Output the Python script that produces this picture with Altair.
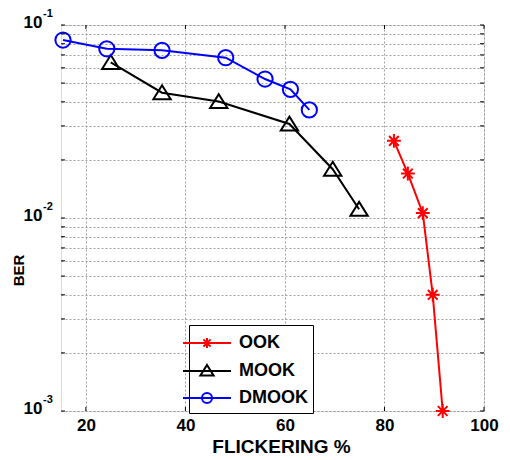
import altair as alt
import pandas as pd

# ---- data ----
series_names = ["OOK", "MOOK", "DMOOK"]
series_colors = ["#ff0000", "#000000", "#0000ff"]

ook_x = [81.9, 84.7, 87.7, 89.7, 91.7]
ook_ber = [0.0251, 0.0170, 0.0106, 0.0040, 0.0010]

mook_x = [25.0, 35.3, 46.7, 60.9, 69.6, 74.9]
mook_ber = [0.0640, 0.0446, 0.0401, 0.0307, 0.0179, 0.0111]

dmook_x = [15.4, 24.2, 35.3, 48.1, 56.0, 61.1, 64.9]
dmook_ber = [0.0836, 0.0753, 0.0739, 0.0677, 0.0525, 0.0464, 0.0363]

x_ticks = [20, 40, 60, 80, 100]
y_exponents = [-3, -2, -1]
y_mantissas = [1, 2, 3, 4, 5, 6, 7, 8, 9]

# ---- tables ----
rows = []
for name, xs, ys in zip(series_names, [ook_x, mook_x, dmook_x], [ook_ber, mook_ber, dmook_ber]):
    for i, (a, b) in enumerate(zip(xs, ys)):
        rows.append({"series": name, "x": a, "ber": b, "order": i})
df = pd.DataFrame(rows)

y_grid = [round(m * 10.0 ** e, 6) for e in y_exponents[:-1] for m in y_mantissas] + [10.0 ** y_exponents[-1]]
ytick_df = pd.DataFrame({"ber": y_grid})
xtick_df = pd.DataFrame({"x": x_ticks})
exp_df = pd.DataFrame({"ber": [10.0 ** e for e in y_exponents], "label": [str(e) for e in y_exponents]})

W, H = 423, 386
FONT = "Liberation Sans"

# marker paths (unit square)
marker_paths = [
    "M0,-0.8V0.8M-0.8,0H0.8M-0.56,-0.56L0.56,0.56M-0.56,0.56L0.56,-0.56",
    "M0,-0.85L1,0.75L-1,0.75Z",
    "M0.88,0A0.88,0.88 0 1,1 -0.88,0A0.88,0.88 0 1,1 0.88,0",
]
# legend symbols: line segment plus small marker
legend_paths = [
    "M-2,0H2M0,-0.42V0.42M-0.42,0H0.42M-0.3,-0.3L0.3,0.3M-0.3,0.3L0.3,-0.3",
    "M-2,0H2M0,-0.5L0.55,0.38L-0.55,0.38Z",
    "M-2,0H2M0.42,0A0.42,0.42 0 1,1 -0.42,0A0.42,0.42 0 1,1 0.42,0",
]

xscale = alt.Scale(domain=[15, 100], nice=False, zero=False)
yscale = alt.Scale(type="log", domain=[0.001, 0.1], nice=False)

x_axis = alt.Axis(
    values=x_ticks, title="FLICKERING %", grid=True, ticks=False, domain=False,
    labelFlush=False, labelFont=FONT, labelFontSize=17, labelFontWeight="bold",
    labelColor="black", labelPadding=6, titleFont=FONT, titleFontSize=19,
    titleFontWeight="bold", titleColor="black", titlePadding=4,
    titleX=220, titleAlign="center",
    gridColor="#888888", gridDash=[2, 2], gridWidth=0.8,
)
y_axis = alt.Axis(
    values=y_grid, title="BER", grid=True, ticks=False, domain=False,
    labelExpr="abs(log(datum.value)/LN10 - round(log(datum.value)/LN10)) < 0.001 ? '10' : ''",
    labelFont=FONT, labelFontSize=17, labelFontWeight="bold", labelColor="black",
    labelPadding=19, labelOffset=-2.5, labelBaseline="middle", labelOverlap=False,
    titleFont=FONT, titleFontSize=15, titleFontWeight="bold", titleColor="black",
    titleX=-43, titleY=245, titleAngle=270, titleAlign="center", titleBaseline="middle",
    gridColor="#888888", gridDash=[2, 2], gridWidth=0.8,
)
x_enc = alt.X("x:Q", scale=xscale, axis=x_axis)
y_enc = alt.Y("ber:Q", scale=yscale, axis=y_axis)

color_enc = alt.Color("series:N", scale=alt.Scale(domain=series_names, range=series_colors), legend=None)

base = alt.Chart(df)

lines = base.mark_line(strokeWidth=2).encode(x=x_enc, y=y_enc, color=color_enc, detail="series:N", order="order:Q")

points = base.mark_point(filled=False, strokeWidth=2, size=300, opacity=1).encode(
    x=x_enc, y=y_enc,
    color=color_enc,
    shape=alt.Shape("series:N", scale=alt.Scale(domain=series_names, range=marker_paths), legend=None),
)

legend_layer = base.transform_filter("false").mark_point(filled=False, strokeWidth=2, opacity=1).encode(
    x=x_enc, y=y_enc,
    color=alt.Color("series:N", scale=alt.Scale(domain=series_names, range=series_colors),
                    legend=alt.Legend(
                        orient="none", legendX=128, legendY=300, title=None,
                        strokeColor="black", fillColor="white", padding=5,
                        labelFont=FONT, labelFontSize=18, labelFontWeight="bold", labelColor="black",
                        symbolSize=576, symbolStrokeWidth=2, labelOffset=19, rowPadding=5,
                        offset=0,
                    )),
    shape=alt.Shape("series:N", scale=alt.Scale(domain=series_names, range=legend_paths)),
)

ytick_l = alt.Chart(ytick_df).mark_rule(color="black", strokeWidth=1).encode(
    y=y_enc, x=alt.value(0), x2=alt.value(4))
ytick_r = alt.Chart(ytick_df).mark_rule(color="black", strokeWidth=1).encode(
    y=y_enc, x=alt.value(W - 4), x2=alt.value(W))
xtick_b = alt.Chart(xtick_df).mark_rule(color="black", strokeWidth=1).encode(
    x=x_enc, y=alt.value(H - 4), y2=alt.value(H))
xtick_t = alt.Chart(xtick_df).mark_rule(color="black", strokeWidth=1).encode(
    x=x_enc, y=alt.value(0), y2=alt.value(4))

exps = alt.Chart(exp_df).mark_text(
    align="left", baseline="middle", font=FONT, fontSize=11, fontWeight="bold", color="black", dy=-11
).encode(y=y_enc, x=alt.value(-18), text="label:N")

chart = alt.layer(
    lines, points, legend_layer, ytick_l, ytick_r, xtick_b, xtick_t, exps
).resolve_scale(
    color="independent", shape="independent"
).properties(
    width=W, height=H,
    autosize=alt.AutoSizeParams(type="none"),
    padding={"left": 53, "top": 17, "right": 18, "bottom": 48},
).configure_view(
    stroke="black", strokeWidth=1.5
).configure(background="white")

chart.save("out.html", embed_options={"renderer": "svg", "actions": False})
